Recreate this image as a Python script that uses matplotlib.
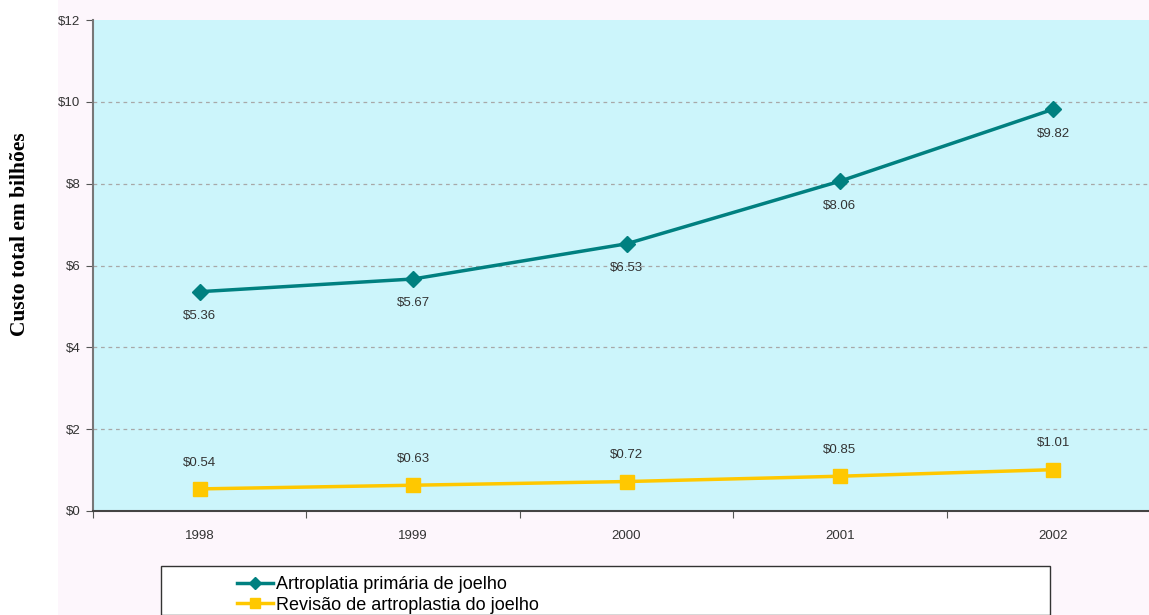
import matplotlib.pyplot as plt
from matplotlib.patches import Rectangle
from matplotlib.ticker import FixedLocator, NullFormatter

# ---- data ----
years = ['1998', '1999', '2000', '2001', '2002']
primary = [5.36, 5.67, 6.53, 8.06, 9.82]
revision = [0.54, 0.63, 0.72, 0.85, 1.01]
primary_label = 'Artroplatia primária de joelho'
revision_label = 'Revisão de artroplastia do joelho'
yticks = [0, 2, 4, 6, 8, 10, 12]

teal = '#008080'
yellow = '#ffc800'

plt.rcParams['font.family'] = ['Liberation Sans', 'DejaVu Sans']

W, H = 1149, 615
fig = plt.figure(figsize=(W / 100, H / 100), dpi=100, facecolor='white')

# faint pink panel behind chart
fig.patches.append(Rectangle((58 / W, 0), 1, 1, transform=fig.transFigure,
                             facecolor='#fdf6fc', edgecolor='none', zorder=-10))

# axes: left 93px, right ~1160px (runs off the image), top 20, bottom 511
ax = fig.add_axes([93 / W, 1 - 511 / H, (1160 - 93) / W, (511 - 20) / H])
ax.set_facecolor('#ccf5fb')

x = list(range(len(years)))
ax.plot(x, primary, color=teal, lw=2.5, marker='D', ms=8, zorder=3)
ax.plot(x, revision, color=yellow, lw=2.5, marker='s', ms=10, zorder=3)

for xi, v in zip(x, primary):
    ax.annotate(f'${v:.2f}', (xi, v), xytext=(0, -17.5), textcoords='offset points',
                ha='center', va='center', fontsize=9.5, color='#333333')
for xi, v in zip(x, revision):
    ax.annotate(f'${v:.2f}', (xi, v), xytext=(0, 19), textcoords='offset points',
                ha='center', va='center', fontsize=9.5, color='#333333')

ax.set_xlim(-0.5, 4.5)
ax.set_ylim(0, 12)
ax.set_yticks(yticks)
ax.set_yticklabels([f'${v}' for v in yticks], fontsize=9.5, color='#333333')
# dashed grid lines (none on the top edge)
for v in yticks[1:-1]:
    ax.axhline(v, color='#a8a8a8', ls=(0, (3, 3)), lw=0.9, zorder=1)

# category ticks at boundaries, labels centred
ax.xaxis.set_major_locator(FixedLocator([-0.5, 0.5, 1.5, 2.5, 3.5, 4.5]))
ax.xaxis.set_major_formatter(NullFormatter())
ax.xaxis.set_minor_locator(FixedLocator(x))
ax.set_xticklabels(years, minor=True, fontsize=9.5, color='#333333')
ax.tick_params(axis='x', which='minor', length=0, pad=14)
ax.tick_params(axis='x', which='major', length=5, color='#555555')
ax.tick_params(axis='y', length=5, color='#555555', pad=4)

for side in ['top', 'right']:
    ax.spines[side].set_visible(False)
ax.spines['left'].set_color('#777777')
ax.spines['left'].set_linewidth(1.5)
ax.spines['bottom'].set_color('#444444')
ax.spines['bottom'].set_linewidth(1.5)

fig.text(20 / W, 1 - 234 / H, 'Custo total em bilhões', rotation=90,
         ha='center', va='center', fontsize=15.5, fontweight='bold',
         family=['Liberation Serif', 'DejaVu Serif'])

# legend box
fig.patches.append(Rectangle((161 / W, 0), (1050 - 161) / W, (H - 566) / H,
                             transform=fig.transFigure, facecolor='white',
                             edgecolor='#333333', lw=1))
h1, = ax.plot([], [], color=teal, lw=2.5, marker='D', ms=6)
h2, = ax.plot([], [], color=yellow, lw=2.5, marker='s', ms=7)
fig.legend([h1, h2], [primary_label, revision_label], loc='upper left',
           bbox_to_anchor=(237 / W, 1 - 576 / H), frameon=False, fontsize=13,
           handlelength=2.0, handletextpad=0.15, labelspacing=0.2,
           borderpad=0, borderaxespad=0)

fig.savefig('out.png', dpi=100, facecolor=fig.get_facecolor())
